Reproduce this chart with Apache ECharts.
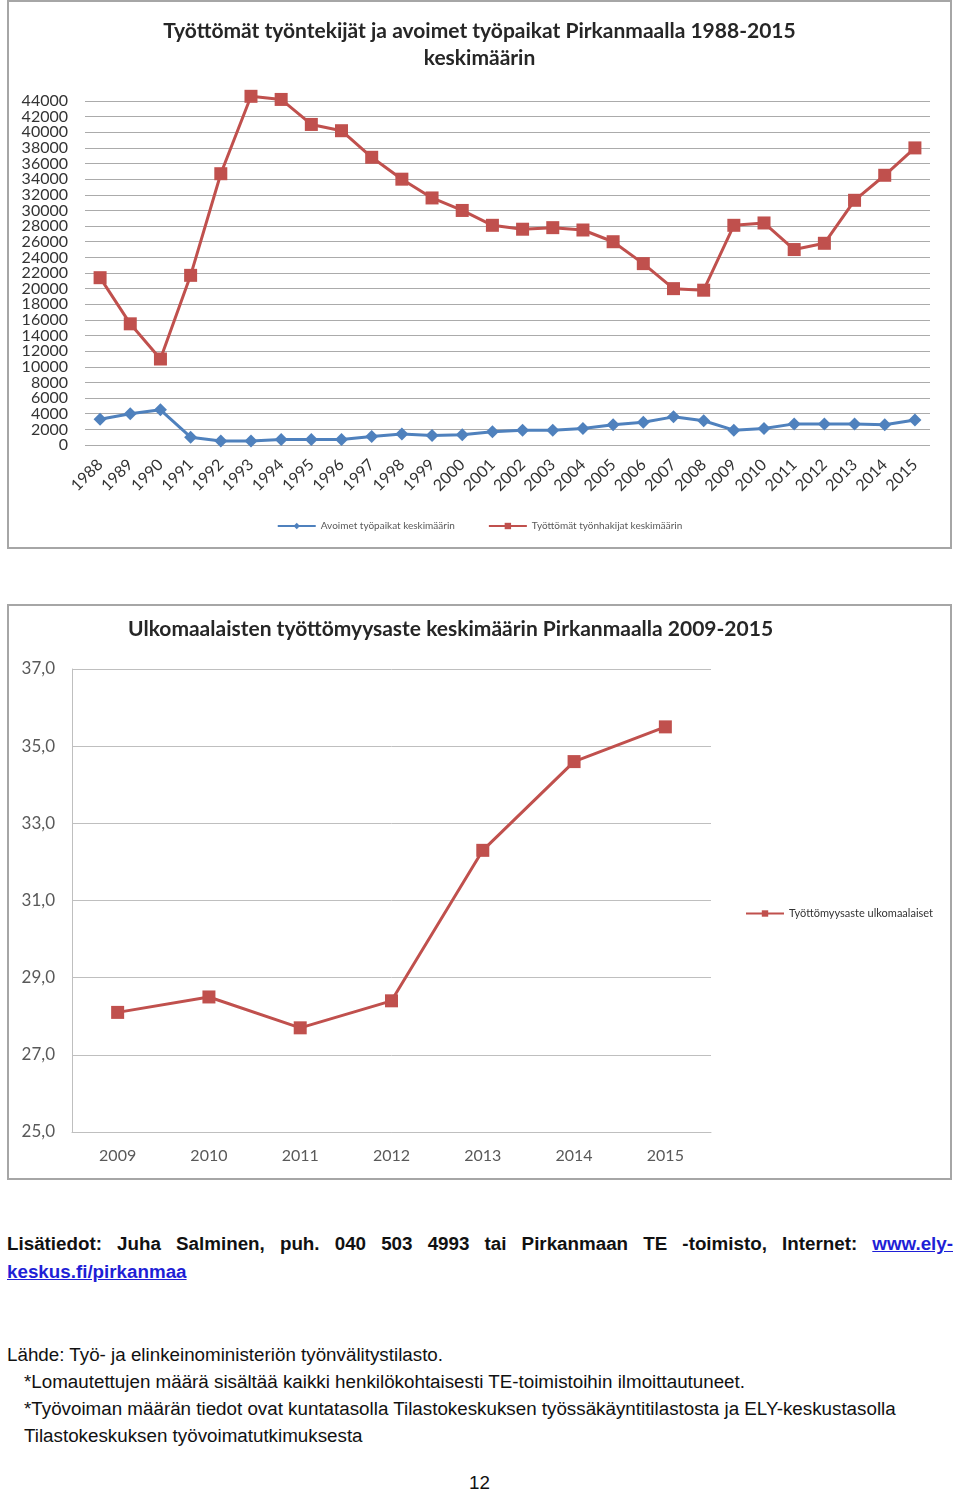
<!DOCTYPE html>
<html>
<head>
<meta charset="utf-8">
<script src="https://cdn.jsdelivr.net/npm/echarts@6/dist/echarts.min.js"></script>
<style>
  html, body { margin: 0; padding: 0; background: #fff; }
  body { width: 960px; height: 1491px; position: relative; font-family: "Liberation Sans", Arial, sans-serif; color: #111; }
  .box { position: absolute; border: 2px solid #a6a6a6; background: #fff; }
  .txt { position: absolute; font-size: 18.8px; line-height: 27px; white-space: nowrap; }
  .just { text-align: justify; text-align-last: justify; white-space: normal; font-weight: bold; }
  a { color: #1f1fd6; }
</style>
</head>
<body>
<div id="c1" class="box" style="left:7px;top:0;width:941px;height:545px"></div>
<div id="c2" class="box" style="left:7px;top:604px;width:941px;height:572px"></div>

<div class="txt just" style="left:7px;top:1230px;width:946px">Lisätiedot: Juha Salminen, puh. 040 503 4993 tai Pirkanmaan TE -toimisto, Internet: <a href="#">www.ely-</a></div>
<div class="txt" style="left:7px;top:1258px;font-weight:bold"><a href="#">keskus.fi/pirkanmaa</a></div>
<div class="txt" style="left:7px;top:1341px">Lähde: Työ- ja elinkeinoministeriön työnvälitystilasto.</div>
<div class="txt" style="left:24px;top:1368px">*Lomautettujen määrä sisältää kaikki henkilökohtaisesti TE-toimistoihin ilmoittautuneet.</div>
<div class="txt" style="left:24px;top:1395px">*Työvoiman määrän tiedot ovat kuntatasolla Tilastokeskuksen työssäkäyntitilastosta ja ELY-keskustasolla</div>
<div class="txt" style="left:24px;top:1422px">Tilastokeskuksen työvoimatutkimuksesta</div>
<div class="txt" style="left:469px;top:1469px">12</div>

<script>
// chart 1: unemployed job seekers and open vacancies 1988-2015
const years1 = ['1988', '1989', '1990', '1991', '1992', '1993', '1994', '1995', '1996', '1997',
  '1998', '1999', '2000', '2001', '2002', '2003', '2004', '2005', '2006', '2007',
  '2008', '2009', '2010', '2011', '2012', '2013', '2014', '2015']
const openJobs = [3300, 4000, 4500, 1000, 500, 500, 700, 700, 700, 1100,
  1400, 1200, 1300, 1700, 1900, 1900, 2100, 2600, 2900, 3600,
  3100, 1900, 2100, 2700, 2700, 2700, 2600, 3200]
const unemployed = [21400, 15500, 11000, 21700, 34700, 44600, 44200, 41000, 40200, 36800,
  34000, 31600, 30000, 28100, 27600, 27800, 27500, 26000, 23200, 20000,
  19800, 28100, 28400, 25000, 25800, 31300, 34500, 38000]
const yMin1 = 0, yMax1 = 44000, yStep1 = 2000

// chart 2: unemployment rate of foreigners 2009-2015
const years2 = ['2009', '2010', '2011', '2012', '2013', '2014', '2015']
const foreignRate = [28.1, 28.5, 27.7, 28.4, 32.3, 34.6, 35.5]
const yMin2 = 25, yMax2 = 37, yStep2 = 2

const BLUE = '#4f81bd'
const RED = '#c0504d'
const FONT = 'Lato, "Open Sans", sans-serif'

// the tick labels sit so close together that ECharts drops some of them,
// so even and odd steps are labelled by two overlaid axes
const stepLabels = parity => v => (Math.round(v / yStep1) % 2 === parity ? String(v) : '')
const leftAxis = (parity, withGrid) => ({
  type: 'value',
  position: 'left',
  min: yMin1,
  max: yMax1,
  interval: yStep1,
  axisLine: { show: false },
  axisTick: { show: false },
  axisLabel: {
    margin: 17, fontFamily: FONT, fontSize: 16, color: '#333',
    showMinLabel: true, showMaxLabel: true,
    formatter: stepLabels(parity),
  },
  splitLine: { show: withGrid, lineStyle: { color: '#ababab', width: 1.2 } },
})

const chart1 = echarts.init(document.getElementById('c1'), null, { renderer: 'canvas' })
chart1.setOption({
  animation: false,
  title: {
    text: 'Työttömät työntekijät ja avoimet työpaikat Pirkanmaalla 1988-2015\nkeskimäärin',
    left: 'center',
    top: 11,
    textStyle: { fontFamily: FONT, fontSize: 21, fontWeight: 'bold', color: '#262626', lineHeight: 27 },
  },
  legend: {
    bottom: 11,
    left: 'center',
    itemWidth: 38,
    itemHeight: 8,
    itemGap: 33,
    textStyle: { fontFamily: FONT, fontSize: 10, color: '#595959' },
    data: ['Avoimet työpaikat keskimäärin', 'Työttömät työnhakijat keskimäärin'],
  },
  grid: { left: 76, right: 20, top: 99, bottom: 102 },
  xAxis: {
    type: 'category',
    data: years1,
    axisLine: { show: false },
    axisTick: { show: false },
    axisLabel: { rotate: 45, margin: 17, fontFamily: FONT, fontSize: 16, color: '#333' },
  },
  yAxis: [leftAxis(0, true), leftAxis(1, false)],
  series: [
    {
      name: 'Avoimet työpaikat keskimäärin',
      type: 'line',
      data: openJobs,
      symbol: 'diamond',
      symbolSize: 13,
      clip: false,
      lineStyle: { color: BLUE, width: 3 },
      itemStyle: { color: BLUE },
    },
    {
      name: 'Työttömät työnhakijat keskimäärin',
      type: 'line',
      data: unemployed,
      symbol: 'rect',
      symbolSize: 13,
      clip: false,
      lineStyle: { color: RED, width: 3 },
      itemStyle: { color: RED },
    },
  ],
})

const chart2 = echarts.init(document.getElementById('c2'), null, { renderer: 'canvas' })
chart2.setOption({
  animation: false,
  title: {
    text: 'Ulkomaalaisten työttömyysaste keskimäärin Pirkanmaalla 2009-2015',
    left: 114,
    top: 8,
    textStyle: { fontFamily: FONT, fontSize: 21, fontWeight: 'bold', color: '#262626' },
  },
  legend: {
    left: 731,
    top: 297,
    orient: 'vertical',
    itemWidth: 38,
    itemHeight: 8,
    textStyle: { fontFamily: FONT, fontSize: 11, color: '#333' },
    data: ['Työttömyysaste ulkomaalaiset'],
  },
  grid: { left: 63, right: 239, top: 63, bottom: 46 },
  xAxis: {
    type: 'category',
    data: years2,
    axisLine: { lineStyle: { color: '#bfbfbf' } },
    axisTick: { show: false },
    axisLabel: { margin: 16, fontFamily: FONT, fontSize: 16, color: '#595959' },
  },
  yAxis: {
    type: 'value',
    min: yMin2,
    max: yMax2,
    interval: yStep2,
    axisLine: { show: true, lineStyle: { color: '#bfbfbf' } },
    axisLabel: {
      margin: 17, fontFamily: FONT, fontSize: 17, color: '#595959',
      formatter: v => v.toFixed(1).replace('.', ','),
    },
    splitLine: { lineStyle: { color: '#bfbfbf' } },
  },
  series: [{
    name: 'Työttömyysaste ulkomaalaiset',
    type: 'line',
    data: foreignRate,
    symbol: 'rect',
    symbolSize: 13,
    lineStyle: { color: RED, width: 3 },
    itemStyle: { color: RED },
  }],
})
</script>
</body>
</html>
